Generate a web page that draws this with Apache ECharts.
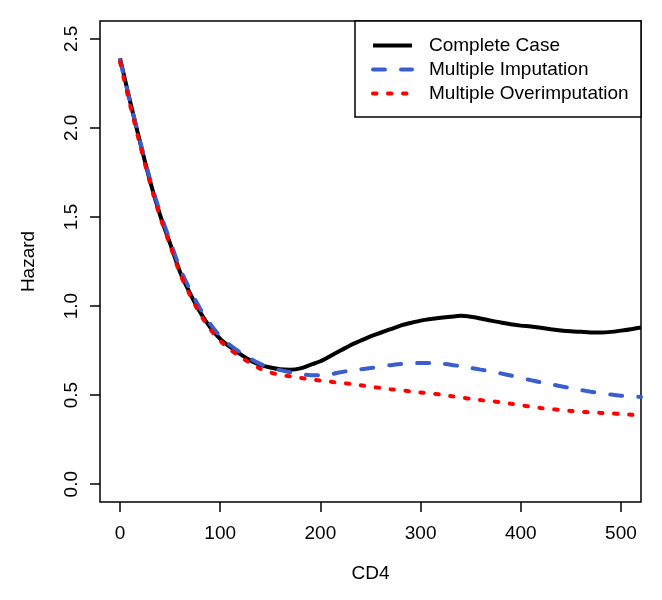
<!DOCTYPE html>
<html>
<head>
<meta charset="utf-8">
<script src="https://cdn.jsdelivr.net/npm/echarts@6/dist/echarts.min.js"></script>
<style>html,body{margin:0;padding:0;background:#fff}#c{width:662px;height:600px}</style>
</head>
<body>
<div id="c"></div>
<script>
var cd4 = [0,10,20,30,40,50,60,70,80,90,100,110,120,130,140,150,160,170,180,190,200,210,220,230,240,250,260,270,280,290,300,310,320,330,340,350,360,370,380,390,400,410,420,430,440,450,460,470,480,490,500,510,520];
var completeCase = [2.39,2.15,1.92,1.70,1.51,1.35,1.19,1.07,0.965,0.88,0.815,0.77,0.73,0.695,0.67,0.655,0.645,0.643,0.65,0.67,0.69,0.72,0.75,0.78,0.805,0.83,0.85,0.87,0.89,0.905,0.918,0.927,0.934,0.94,0.945,0.94,0.93,0.918,0.908,0.898,0.89,0.885,0.878,0.87,0.863,0.858,0.855,0.852,0.852,0.855,0.862,0.87,0.88];
var multipleImputation = [2.38,2.15,1.925,1.71,1.525,1.365,1.21,1.09,0.985,0.9,0.83,0.78,0.74,0.705,0.675,0.655,0.64,0.628,0.618,0.612,0.612,0.617,0.628,0.638,0.645,0.652,0.66,0.668,0.674,0.678,0.68,0.68,0.677,0.671,0.662,0.653,0.643,0.633,0.622,0.61,0.597,0.584,0.572,0.561,0.55,0.539,0.529,0.519,0.51,0.503,0.497,0.493,0.49];
var multipleOverimputation = [2.37,2.13,1.905,1.69,1.50,1.34,1.18,1.06,0.955,0.87,0.805,0.755,0.715,0.68,0.648,0.627,0.613,0.605,0.597,0.589,0.581,0.575,0.569,0.563,0.555,0.547,0.54,0.533,0.527,0.521,0.515,0.509,0.503,0.495,0.487,0.479,0.472,0.466,0.46,0.452,0.443,0.435,0.428,0.422,0.416,0.411,0.407,0.403,0.4,0.397,0.394,0.39,0.385];
var xTicks = [0,100,200,300,400,500];
var yTicks = [0,0.5,1,1.5,2,2.5];
var seriesNames = ['Complete Case','Multiple Imputation','Multiple Overimputation'];

function pairs(xs, ys){ return xs.map(function(x,i){ return [x, ys[i]]; }); }

var FONT = 'Liberation Sans, Arial, sans-serif';
var chart = echarts.init(document.getElementById('c'), null, {renderer:'canvas'});
chart.setOption({
  animation: false,
  backgroundColor: '#fff',
  grid: { left: 100, top: 21, right: 21, bottom: 98, show: true, borderColor: '#000', borderWidth: 1.5, containLabel: false, outerBoundsMode: 'none' },
  xAxis: {
    type: 'value', min: -20, max: 520,
    name: 'CD4', nameLocation: 'middle', nameGap: 62,
    nameTextStyle: { fontSize: 19, color: '#000', fontFamily: FONT },
    axisLine: { show: false, onZero: false },
    splitLine: { show: false },
    axisTick: { show: true, customValues: xTicks, length: 10, lineStyle: { color: '#000', width: 1.5 } },
    axisLabel: { customValues: xTicks, fontSize: 19, color: '#000', fontFamily: FONT, margin: 22 }
  },
  yAxis: {
    type: 'value', min: -0.1, max: 2.6,
    name: 'Hazard', nameLocation: 'middle', nameGap: 62, nameRotate: 90,
    nameTextStyle: { fontSize: 19, color: '#000', fontFamily: FONT },
    axisLine: { show: false, onZero: false },
    splitLine: { show: false },
    axisTick: { show: true, customValues: yTicks, length: 10, lineStyle: { color: '#000', width: 1.5 } },
    axisLabel: { customValues: yTicks, fontSize: 19, color: '#000', fontFamily: FONT, rotate: 90, margin: 19,
      align: 'center', verticalAlign: 'bottom',
      formatter: function(v){ return v.toFixed(1); } }
  },
  graphic: [{
    type: 'rect', z: 1, silent: true,
    shape: { x: 355, y: 21, width: 286, height: 96 },
    style: { fill: '#fff', stroke: '#000', lineWidth: 1.5 }
  }],
  legend: {
    z: 5, orient: 'vertical', left: 371, top: 36, padding: 0,
    itemWidth: 39, itemHeight: 19, itemGap: 5,
    itemStyle: { opacity: 0 },
    lineStyle: { width: 4 },
    textStyle: { fontSize: 19, color: '#000', fontFamily: FONT, padding: [0,0,0,12] },
    data: seriesNames
  },
  series: [
    { name: seriesNames[0], type: 'line', data: pairs(cd4, completeCase), showSymbol: false, symbol: 'none', smooth: 0.3,
      lineStyle: { color: '#000', width: 4 }, itemStyle: { color: '#000' }, z: 3 },
    { name: seriesNames[1], type: 'line', data: pairs(cd4, multipleImputation), showSymbol: false, symbol: 'none', smooth: 0.3,
      lineStyle: { color: '#3A5FCD', width: 4, type: [12,16], cap: 'round' }, itemStyle: { color: '#3A5FCD' }, z: 4 },
    { name: seriesNames[2], type: 'line', data: pairs(cd4, multipleOverimputation), showSymbol: false, symbol: 'none', smooth: 0.3,
      lineStyle: { color: '#FF0000', width: 4, type: [3.5,11.5], cap: 'round' }, itemStyle: { color: '#FF0000' }, z: 5 }
  ]
});
</script>
</body>
</html>
